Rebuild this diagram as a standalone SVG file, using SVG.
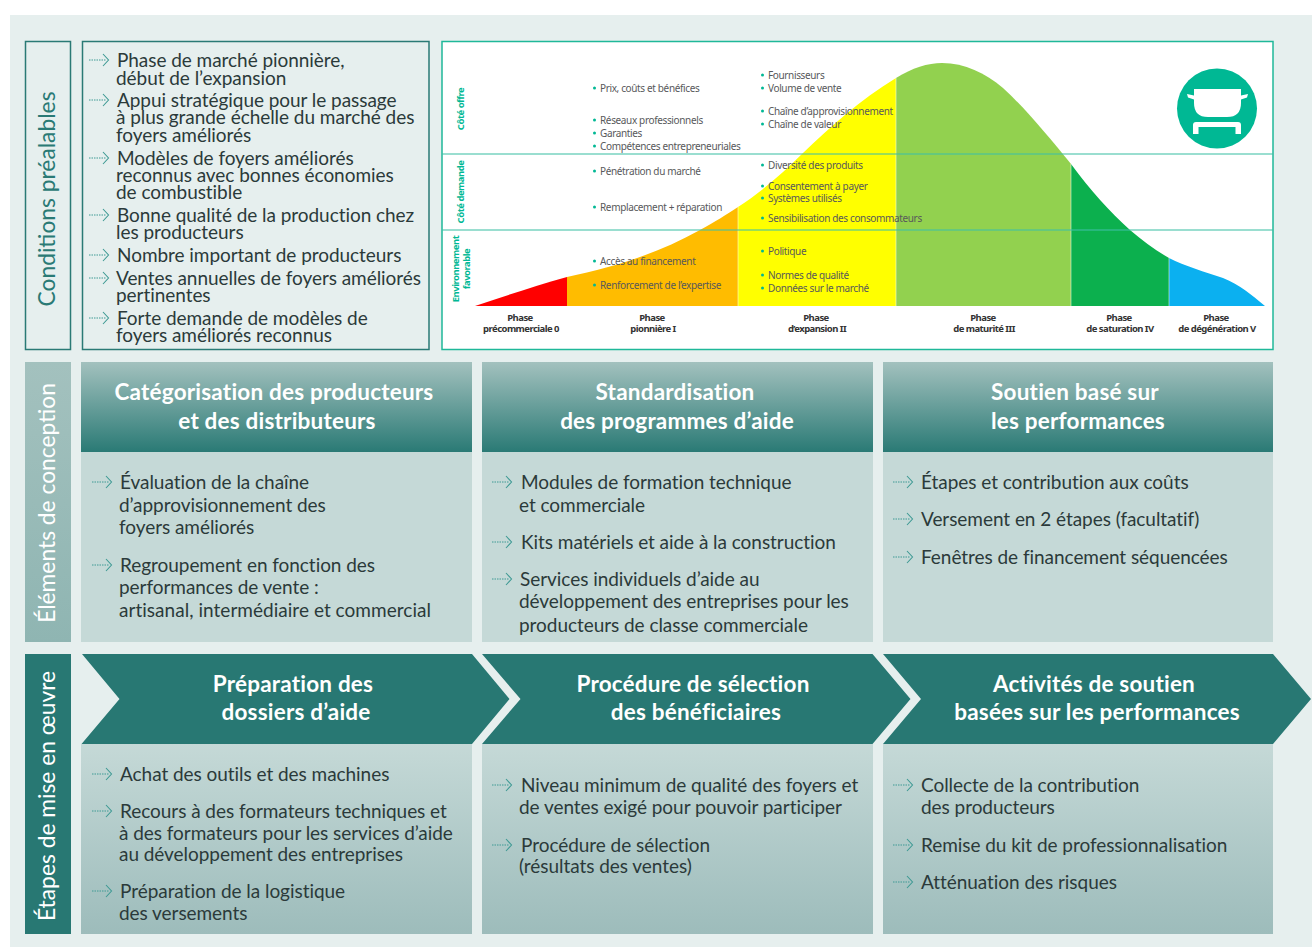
<svg xmlns="http://www.w3.org/2000/svg" xmlns:xlink="http://www.w3.org/1999/xlink" width="1312" height="947" viewBox="0 0 1312 947">
<style>
.t{font-family:"Lato","Open Sans",sans-serif;font-size:19px;letter-spacing:-.05px;fill:#2b3a3a;transform:translateY(.6px)}
.h{font-family:"Lato","Open Sans",sans-serif;font-size:22.500px;letter-spacing:.2px;font-weight:700;fill:#fff;text-anchor:middle;transform:translateY(.6px)}
.s{font-family:"Lato","Open Sans",sans-serif;font-size:22.800px;fill:#fff;text-anchor:middle}
.c{font-family:"Noto Sans","Open Sans",sans-serif;font-size:10px;letter-spacing:-.36px;fill:#58595b}
.p{font-family:"Noto Sans","Open Sans",sans-serif;font-size:9.500px;font-weight:700;letter-spacing:-.55px;fill:#333;text-anchor:middle}
.y{font-family:"Noto Sans","Open Sans",sans-serif;font-size:9.500px;font-weight:700;letter-spacing:-.5px;fill:#00b894;text-anchor:middle}
.b{fill:#00b894}
.g{stroke:#3ebfa5;stroke-opacity:.7;stroke-width:1.5;fill:none}
.o{fill:none;stroke:#2a7a75;stroke-width:1.5}
</style>
<defs>
<linearGradient id="hd" x1="0" y1="0" x2="0" y2="1"><stop offset="0" stop-color="#a3c1be"/><stop offset="1" stop-color="#2a7a75"/></linearGradient>
<linearGradient id="bd" x1="0" y1="0" x2="0" y2="1"><stop offset="0" stop-color="#c5d9d7"/><stop offset="1" stop-color="#9dbcbb"/></linearGradient>
<linearGradient id="sd" x1="0" y1="0" x2="0" y2="1"><stop offset="0" stop-color="#a3c1be"/><stop offset="1" stop-color="#8fb5b2"/></linearGradient>
<g id="ar" fill="none" stroke="#3f9a94"><path d="M0 0H17" stroke-width="1" stroke-dasharray="1.5 1"/><path d="M14 -6L19.500 0L14 6" stroke-width="1.100"/></g>
</defs>
<rect x="10" y="15" width="1302" height="932" fill="#e6efee"/>

<g id="conditions-label"><rect class="o" x="25.500" y="41.500" width="45" height="308"/><text class="s" transform="translate(55 199) rotate(-90)" style="fill:#2a7a75">Conditions préalables</text></g>
<g id="conditions">
<rect class="o" x="82.500" y="41.500" width="346.500" height="308" fill="#e6efee"/>
<use xlink:href="#ar" x="89" y="60"/><use xlink:href="#ar" x="89" y="100"/><use xlink:href="#ar" x="89" y="158"/><use xlink:href="#ar" x="89" y="215"/><use xlink:href="#ar" x="89" y="255"/><use xlink:href="#ar" x="89" y="278"/><use xlink:href="#ar" x="89" y="318"/>
<text class="t" x="117" y="66">Phase de marché pionnière,</text>
<text class="t" x="116" y="84">début de l’expansion</text>
<text class="t" x="117" y="106">Appui stratégique pour le passage</text>
<text class="t" x="116" y="123">à plus grande échelle du marché des</text>
<text class="t" x="116" y="141">foyers améliorés</text>
<text class="t" x="117" y="164">Modèles de foyers améliorés</text>
<text class="t" x="116" y="181">reconnus avec bonnes économies</text>
<text class="t" x="116" y="198">de combustible</text>
<text class="t" x="117" y="221">Bonne qualité de la production chez</text>
<text class="t" x="116" y="238">les producteurs</text>
<text class="t" x="117" y="261">Nombre important de producteurs</text>
<text class="t" x="116" y="284">Ventes annuelles de foyers améliorés</text>
<text class="t" x="116" y="301">pertinentes</text>
<text class="t" x="117" y="324">Forte demande de modèles de</text>
<text class="t" x="116" y="341">foyers améliorés reconnus</text>
</g>

<g id="chart">
<rect x="442" y="41.500" width="831" height="308" fill="#fff" stroke="#1fb899" stroke-width="1.500"/>
<path fill="#ff0000" d="M475 306C505 296 535 286 567 277V306Z"/>
<path fill="#ffbc00" d="M567 277C610 268 655 255 700 230C715 222 727 214 738 207V306H567Z"/>
<path fill="#ffff00" d="M738 207C760 193 783 173 803 153C830 127 860 100 896 78V306H738Z"/>
<path fill="#92d14f" d="M896 78C912 68 928 63 942 63C965 63 985 73 1003 88C1025 108 1048 136 1071 164V306H896Z"/>
<path fill="#0cb04e" d="M1071 164C1090 190 1110 212 1130 230C1143 241 1155 250 1169 258V306H1071Z"/>
<path fill="#0bb0f0" d="M1169 258C1185 266 1205 272 1223 278C1240 285 1252 295 1265 306H1169Z"/>
<path d="M738 207V306M896 78V306M1071 164V306M1169 258V306" stroke="#fff" stroke-opacity=".5" fill="none"/>
<path class="g" d="M442 154H1273M442 230H1273"/>
<text class="y" transform="translate(464 109) rotate(-90)">Côté offre</text>
<text class="y" transform="translate(464 192) rotate(-90)">Côté demande</text>
<text class="y" transform="translate(459 269) rotate(-90)">Environnement</text>
<text class="y" transform="translate(470 269) rotate(-90)">favorable</text>
<g id="col1-items">
<circle class="b" cx="594.500" cy="88" r="1.500"/><text class="c" x="600" y="92">Prix, coûts et bénéfices</text>
<circle class="b" cx="594.500" cy="120" r="1.500"/><text class="c" x="600" y="124">Réseaux professionnels</text>
<circle class="b" cx="594.500" cy="133" r="1.500"/><text class="c" x="600" y="137">Garanties</text>
<circle class="b" cx="594.500" cy="146" r="1.500"/><text class="c" x="600" y="150">Compétences entrepreneuriales</text>
<circle class="b" cx="594.500" cy="171" r="1.500"/><text class="c" x="600" y="175">Pénétration du marché</text>
<circle class="b" cx="594.500" cy="207" r="1.500"/><text class="c" x="600" y="211">Remplacement + réparation</text>
<circle class="b" cx="594.500" cy="261" r="1.500"/><text class="c" x="600" y="265">Accès au financement</text>
<circle class="b" cx="594.500" cy="285" r="1.500"/><text class="c" x="600" y="289">Renforcement de l’expertise</text>
</g>
<g id="col2-items">
<circle class="b" cx="762.500" cy="75" r="1.500"/><text class="c" x="768" y="79">Fournisseurs</text>
<circle class="b" cx="762.500" cy="88" r="1.500"/><text class="c" x="768" y="92">Volume de vente</text>
<circle class="b" cx="762.500" cy="111" r="1.500"/><text class="c" x="768" y="115">Chaîne d’approvisionnement</text>
<circle class="b" cx="762.500" cy="124" r="1.500"/><text class="c" x="768" y="128">Chaîne de valeur</text>
<circle class="b" cx="762.500" cy="165" r="1.500"/><text class="c" x="768" y="169">Diversité des produits</text>
<circle class="b" cx="762.500" cy="186" r="1.500"/><text class="c" x="768" y="190">Consentement à payer</text>
<circle class="b" cx="762.500" cy="198" r="1.500"/><text class="c" x="768" y="202">Systèmes utilisés</text>
<circle class="b" cx="762.500" cy="218" r="1.500"/><text class="c" x="768" y="222">Sensibilisation des consommateurs</text>
<circle class="b" cx="762.500" cy="251" r="1.500"/><text class="c" x="768" y="255">Politique</text>
<circle class="b" cx="762.500" cy="275" r="1.500"/><text class="c" x="768" y="279">Normes de qualité</text>
<circle class="b" cx="762.500" cy="288" r="1.500"/><text class="c" x="768" y="292">Données sur le marché</text>
</g>
<g id="phases">
<text class="p" x="520" y="321">Phase</text><text class="p" x="521" y="332">précommerciale 0</text>
<text class="p" x="652" y="321">Phase</text><text class="p" x="653" y="332">pionnière I</text>
<text class="p" x="816" y="321">Phase</text><text class="p" x="817" y="332">d’expansion II</text>
<text class="p" x="983" y="321">Phase</text><text class="p" x="984" y="332">de maturité III</text>
<text class="p" x="1119" y="321">Phase</text><text class="p" x="1120" y="332">de saturation IV</text>
<text class="p" x="1216" y="321">Phase</text><text class="p" x="1217" y="332">de dégénération V</text>
</g>
<g id="stove-icon">
<circle cx="1217" cy="108.500" r="40" fill="#00b894"/>
<path fill="#fff" d="M1194 89H1241V103Q1241 117 1227 117H1208Q1194 117 1194 103Z"/>
<path fill="#fff" d="M1194 95.500L1187 94L1188 97.500L1194 99.500ZM1241 95.500L1248 94L1247 97.500L1241 99.500Z"/>
<path fill="#fff" d="M1193 134V125Q1193 122 1196 122H1238Q1241 122 1241 125V134H1235.500V127H1198.500V134Z"/>
</g>
</g>

<g id="design-label"><rect x="25" y="362" width="46" height="280" fill="url(#sd)"/><text class="s" transform="translate(55 503) rotate(-90)">Éléments de conception</text></g>
<g id="design-1">
<rect x="81" y="362" width="391" height="90" fill="url(#hd)"/><rect x="81" y="452" width="391" height="190" fill="#c5d9d7"/>
<text class="h" x="274" y="399">Catégorisation des producteurs</text><text class="h" x="277" y="428">et des distributeurs</text>
<use xlink:href="#ar" x="92" y="482"/><use xlink:href="#ar" x="92" y="565"/>
<text class="t" x="120" y="488">Évaluation de la chaîne</text><text class="t" x="119" y="511">d’approvisionnement des</text><text class="t" x="119" y="533">foyers améliorés</text>
<text class="t" x="120" y="571">Regroupement en fonction des</text><text class="t" x="119" y="593">performances de vente :</text><text class="t" x="119" y="616" style="letter-spacing:.03px">artisanal, intermédiaire et commercial</text>
</g>
<g id="design-2">
<rect x="482" y="362" width="391" height="90" fill="url(#hd)"/><rect x="482" y="452" width="391" height="190" fill="#c5d9d7"/>
<text class="h" x="675" y="399">Standardisation</text><text class="h" x="677" y="428">des programmes d’aide</text>
<use xlink:href="#ar" x="492" y="482"/><use xlink:href="#ar" x="492" y="542"/><use xlink:href="#ar" x="492" y="579"/>
<text class="t" x="521" y="488">Modules de formation technique</text><text class="t" x="519" y="511">et commerciale</text>
<text class="t" x="521" y="548">Kits matériels et aide à la construction</text>
<text class="t" x="520" y="585">Services individuels d’aide au</text><text class="t" x="519" y="607">développement des entreprises pour les</text><text class="t" x="519" y="631">producteurs de classe commerciale</text>
</g>
<g id="design-3">
<rect x="883" y="362" width="390" height="90" fill="url(#hd)"/><rect x="883" y="452" width="390" height="190" fill="#c5d9d7"/>
<text class="h" x="1075" y="399">Soutien basé sur</text><text class="h" x="1078" y="428">les performances</text>
<use xlink:href="#ar" x="893" y="482"/><use xlink:href="#ar" x="893" y="519"/><use xlink:href="#ar" x="893" y="557"/>
<text class="t" x="921" y="488">Étapes et contribution aux coûts</text>
<text class="t" x="921" y="525">Versement en 2 étapes (facultatif)</text>
<text class="t" x="921" y="563">Fenêtres de financement séquencées</text>
</g>

<g id="steps-label"><rect x="25" y="654" width="46" height="280" fill="#287873"/><text class="s" transform="translate(55 796) rotate(-90)">Étapes de mise en œuvre</text></g>
<g id="step-1">
<rect x="81" y="744" width="391" height="190" fill="url(#bd)"/>
<path fill="#287873" d="M82 654H472L509.500 699L472 744H81.500L119.500 699Z"/>
<text class="h" x="293" y="691">Préparation des</text><text class="h" x="296" y="719">dossiers d’aide</text>
<use xlink:href="#ar" x="92" y="774"/><use xlink:href="#ar" x="92" y="811"/><use xlink:href="#ar" x="92" y="891"/>
<text class="t" x="120" y="780">Achat des outils et des machines</text>
<text class="t" x="120" y="817">Recours à des formateurs techniques et</text><text class="t" x="119" y="839">à des formateurs pour les services d’aide</text><text class="t" x="119" y="860">au développement des entreprises</text>
<text class="t" x="120" y="897">Préparation de la logistique</text><text class="t" x="119" y="919">des versements</text>
</g>
<g id="step-2">
<rect x="482" y="744" width="391" height="190" fill="url(#bd)"/>
<path fill="#287873" d="M482 654H872.500L910.500 699L872.500 744H482L520.500 699Z"/>
<text class="h" x="693" y="691">Procédure de sélection</text><text class="h" x="696" y="719">des bénéficiaires</text>
<use xlink:href="#ar" x="492" y="785"/><use xlink:href="#ar" x="492" y="845"/>
<text class="t" x="521" y="791">Niveau minimum de qualité des foyers et</text><text class="t" x="519" y="813">de ventes exigé pour pouvoir participer</text>
<text class="t" x="521" y="851">Procédure de sélection</text><text class="t" x="519" y="872">(résultats des ventes)</text>
</g>
<g id="step-3">
<rect x="883" y="744" width="390" height="190" fill="url(#bd)"/>
<path fill="#287873" d="M883 654H1273L1311 699L1273 744H883L921 699Z"/>
<text class="h" x="1094" y="691">Activités de soutien</text><text class="h" x="1097" y="719">basées sur les performances</text>
<use xlink:href="#ar" x="893" y="785"/><use xlink:href="#ar" x="893" y="845"/><use xlink:href="#ar" x="893" y="882"/>
<text class="t" x="921" y="791">Collecte de la contribution</text><text class="t" x="921" y="813">des producteurs</text>
<text class="t" x="921" y="851">Remise du kit de professionnalisation</text>
<text class="t" x="921" y="888">Atténuation des risques</text>
</g>
<g id="connectors"/>
</svg>
